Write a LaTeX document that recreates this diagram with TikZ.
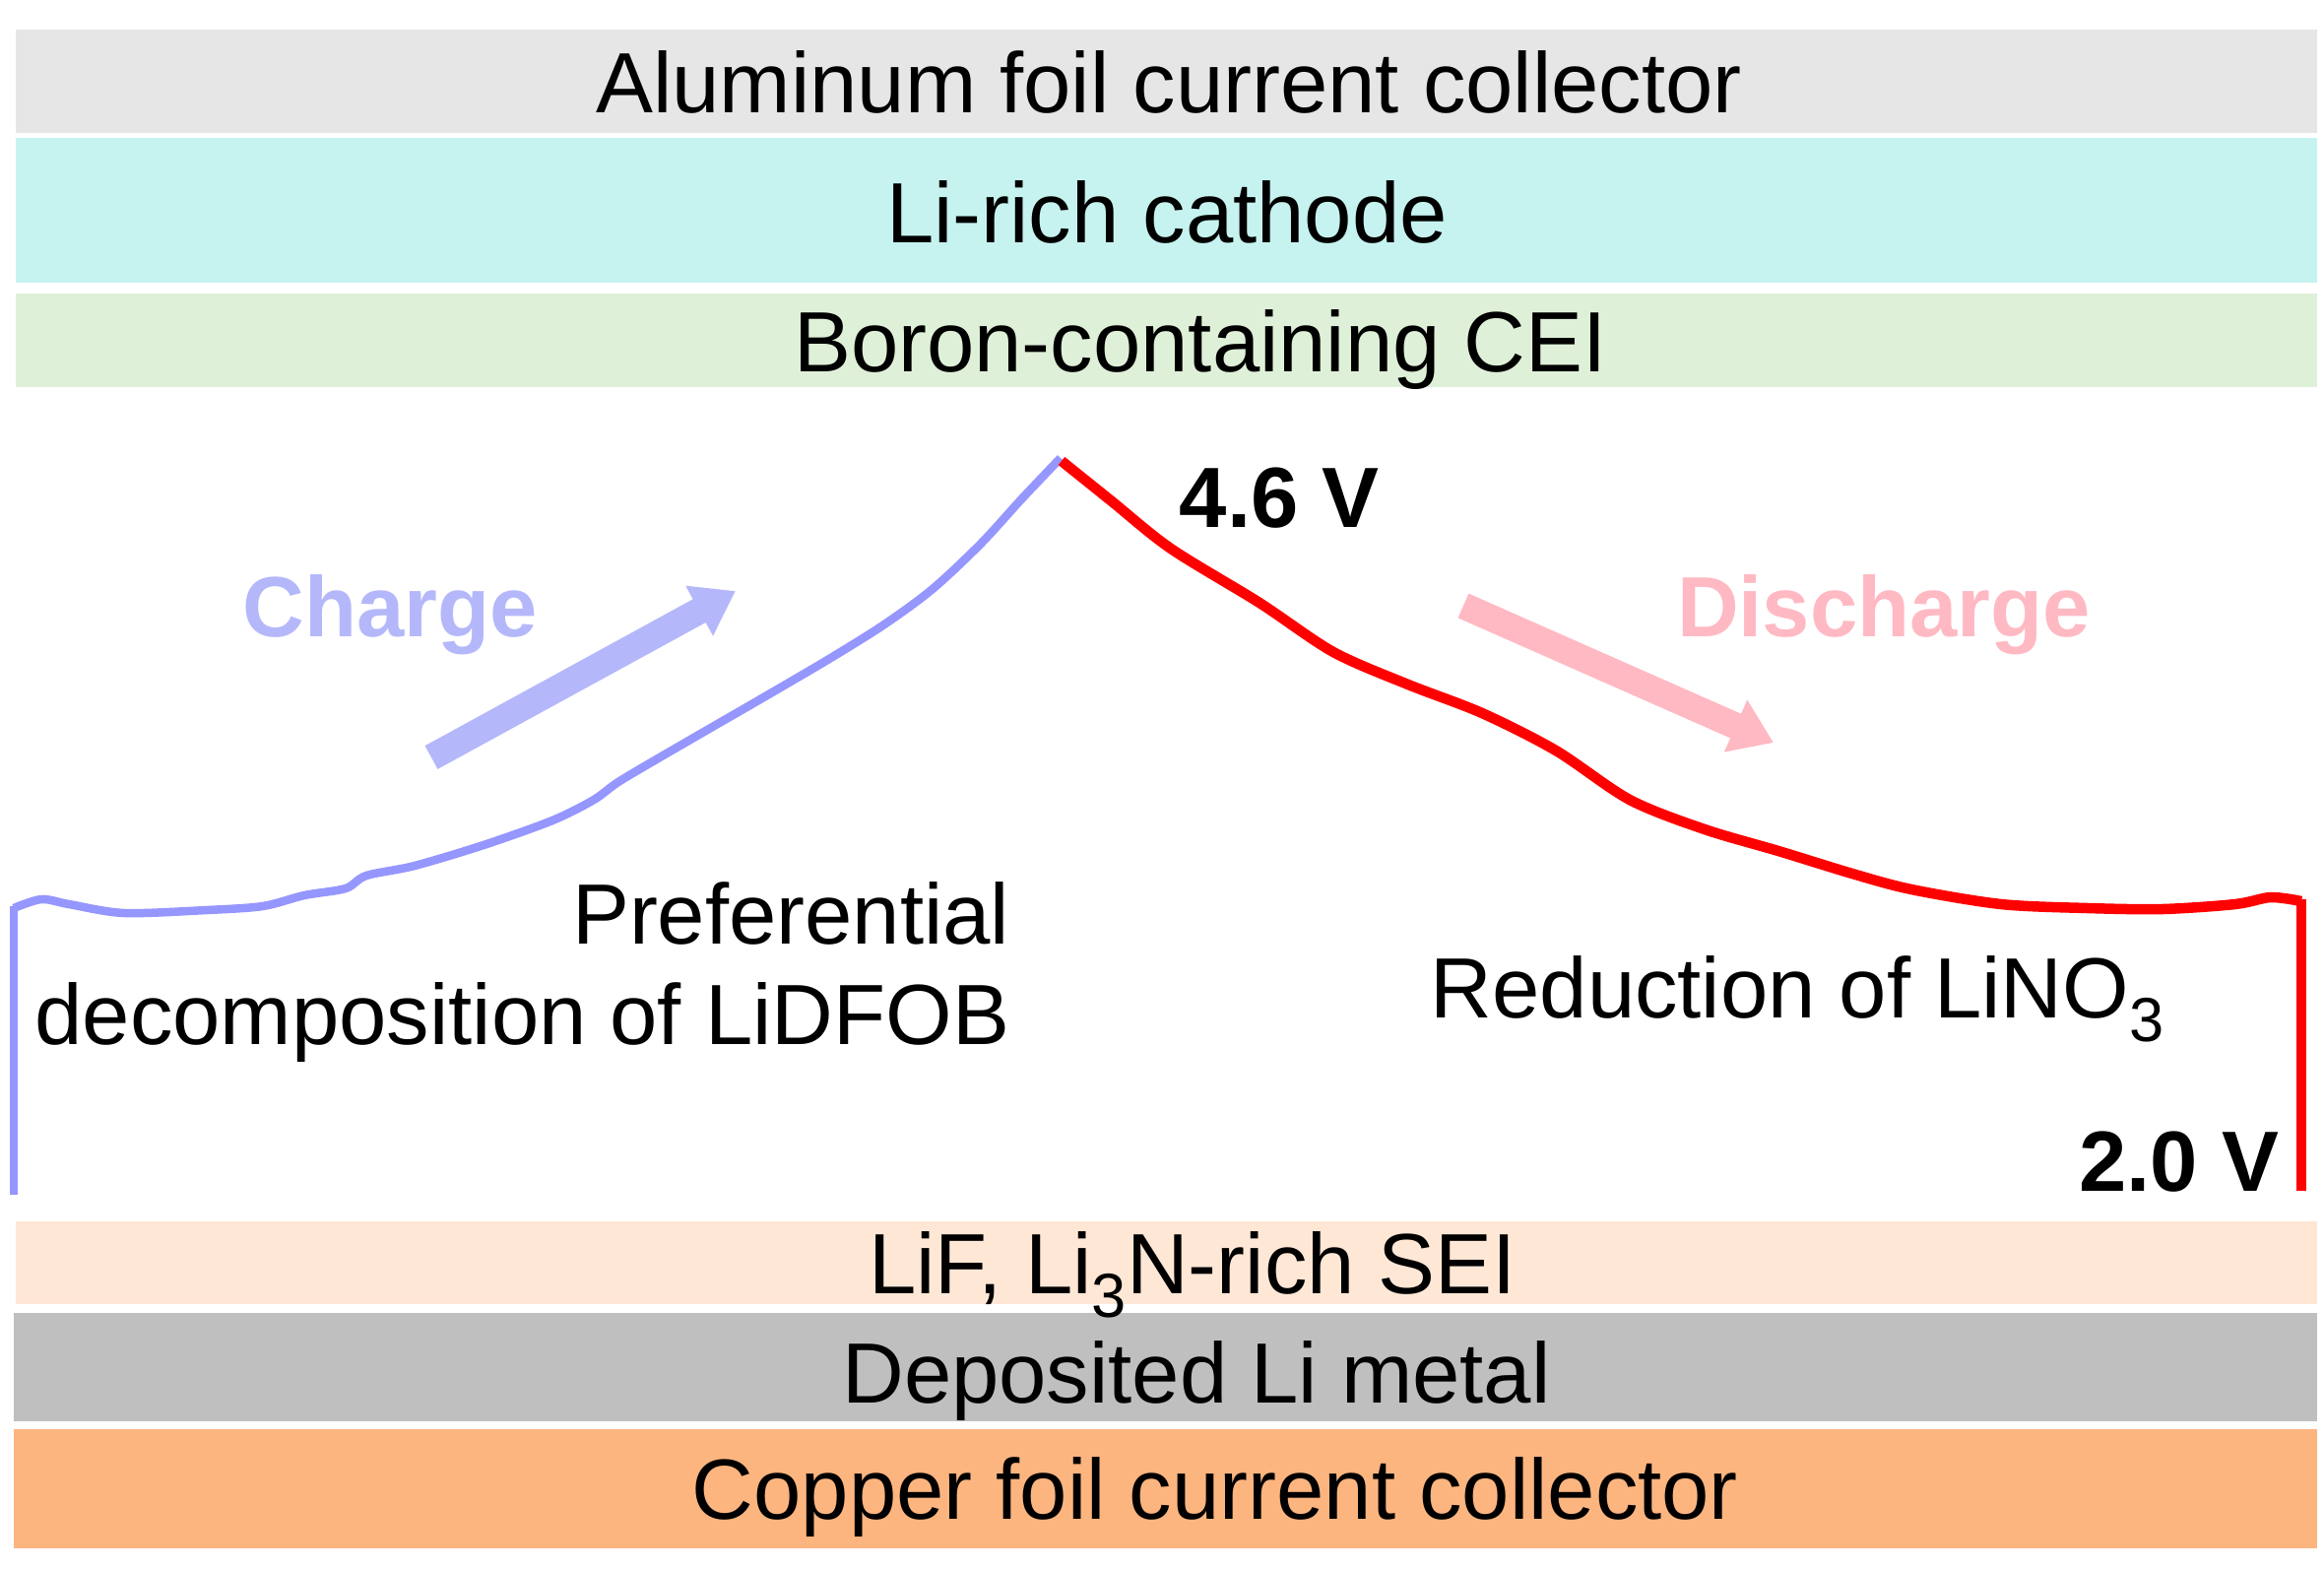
\documentclass[tikz,border=0pt]{standalone}
\usepackage{fontspec}
\setmainfont{Liberation Sans}
\usetikzlibrary{arrows.meta}
\definecolor{alcol}{RGB}{230,230,230}
\definecolor{cathcol}{RGB}{198,243,240}
\definecolor{ceicol}{RGB}{223,240,216}
\definecolor{seicol}{RGB}{255,231,214}
\definecolor{licol}{RGB}{191,191,191}
\definecolor{cucol}{RGB}{253,181,128}
\definecolor{chgline}{RGB}{150,150,255}
\definecolor{chgcol}{RGB}{180,184,250}
\definecolor{dchgcol}{RGB}{255,185,195}
\newcommand\lowsub[1]{\raisebox{-0.28em}{\fontsize{18}{18}\selectfont #1}}

\begin{document}
\begin{tikzpicture}[
            x=0.01cm, y=-0.01cm,
        band text/.style={anchor=base,inner sep=0pt,font=\fontsize{24.7}{29}\selectfont},
        volt/.style={inner sep=0pt,font=\fontsize{24.7}{29}\selectfont\bfseries},
        charge curve/.style={draw=chgline,line width=0.085cm,line join=round},
        discharge curve/.style={draw=red,line width=0.105cm,line join=round},
        big arrow/.style={line width=0.27cm,-{Triangle[length=0.42cm,width=0.55cm]}}
                                ]
    \useasboundingbox (0,0) rectangle (2360,1593);

    % cell layers
    \fill[alcol]   (16,30)    rectangle (2353,135);
    \fill[cathcol] (16,140)   rectangle (2353,287);
    \fill[ceicol]  (16,298)   rectangle (2353,393);
    \fill[seicol]  (16,1240)  rectangle (2353,1324);
    \fill[licol]   (14,1333)  rectangle (2353,1443);
    \fill[cucol]   (14,1451)  rectangle (2353,1572);

    \node[band text] (al)   at (1187,114)  {Aluminum foil current collector};
    \node[band text] (cath) at (1185,246)  {Li-rich cathode};
    \node[band text] (cei)  at (1219,377)  {Boron-containing CEI};
    \node[band text] (sei)  at (1211,1313) {LiF, Li\lowsub{3}N-rich SEI};
    \node[band text] (li)   at (1215,1424) {Deposited Li metal};
    \node[band text] (cu)   at (1234,1542) {Copper foil current collector};

    % voltage profile
    \draw[charge curve] (14,1213) -- (14,920);
    \draw[charge curve] plot[smooth,tension=0.5] coordinates {
        (14,922) (42,913) (70,918) (126,927) (210,924) (267,920) (309,909)
        (351,902) (372,889) (421,879) (491,858) (561,833) (603,812) (631,792)
        (701,751) (772,710) (842,669) (898,634) (947,598) (996,552) (1038,506) (1077,465)};
    \draw[discharge curve] plot[smooth,tension=0.5] coordinates {
        (1078,468) (1129,509) (1189,557) (1279,612) (1354,662) (1430,695) (1505,724)
        (1580,762) (1655,812) (1731,842) (1806,864) (1881,887) (1941,903) (2032,918)
        (2120,922) (2196,923) (2270,918) (2306,911) (2337,915)};
    \draw[discharge curve] (2337,913) -- (2337,1209);

    \node[volt,anchor=base west] (hi) at (1197,535)  {4.6 V};
    \node[volt,anchor=base east] (lo) at (2315,1209) {2.0 V};

    \node[volt,text=chgcol,anchor=base]  (chg)  at (396,646)  {Charge};
    \node[volt,text=dchgcol,anchor=base] (dchg) at (1913,646) {Discharge};

    \coordinate (chg tail)  at (438,769);
    \coordinate (chg tip)   at (747,600);
    \coordinate (dchg tail) at (1486,615);
    \coordinate (dchg tip)  at (1801,754);
    \draw[big arrow,draw=chgcol]  (chg tail)  -- (chg tip);
    \draw[big arrow,draw=dchgcol] (dchg tail) -- (dchg tip);

    \node[band text,anchor=base east,align=right] (pref) at (1026,1060)
        {Preferential\\decomposition of LiDFOB};
    \node[band text,anchor=base west] (red) at (1452,1033) {Reduction of LiNO\lowsub{3}};
\end{tikzpicture}
\end{document}
